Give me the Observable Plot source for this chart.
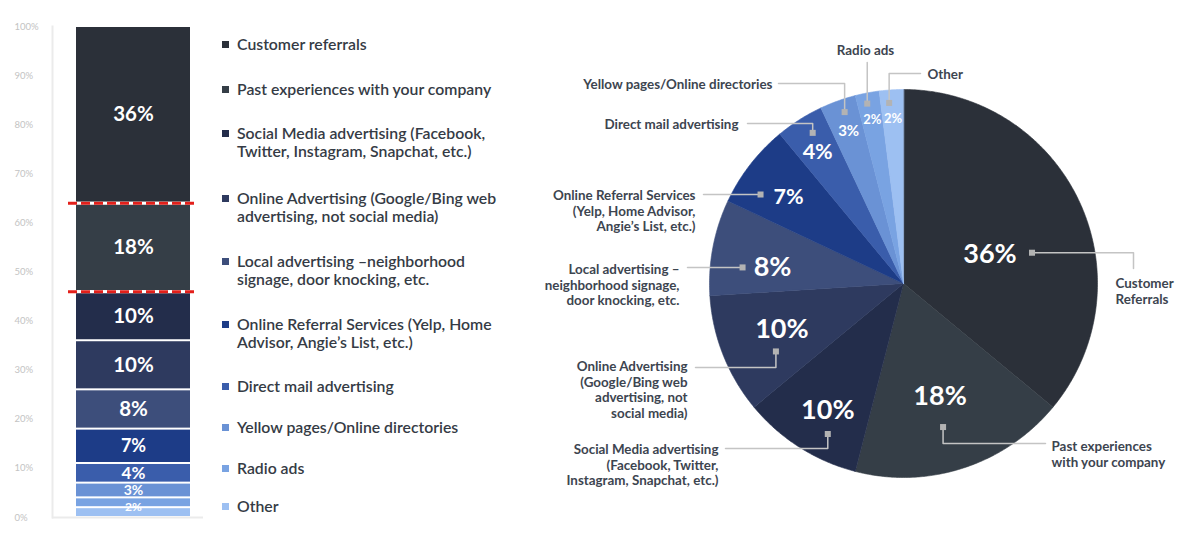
<!DOCTYPE html>
<html><head><meta charset="utf-8">
<script src="https://cdn.jsdelivr.net/npm/d3@7"></script>
<script src="https://cdn.jsdelivr.net/npm/@observablehq/plot@0.6"></script>
<style>
html,body{margin:0;padding:0;background:#fff;}
#root{position:relative;width:1200px;height:533px;overflow:hidden;font-family:Lato,"Open Sans",sans-serif;}
#bar{position:absolute;left:0;top:0;}
#legend{position:absolute;left:0;top:0;}
#pie{position:absolute;left:520px;top:0;}
.item{position:absolute;left:222px;}
.sw{position:absolute;left:0;top:5.5px;width:7px;height:7px;}
.lt{position:absolute;left:15px;top:0;white-space:pre;font:600 15.8px/18px Lato,"Open Sans",sans-serif;color:#353b45;}
</style></head>
<body><div id="root"><div id="bar"></div><div id="legend"></div><div id="pie"></div></div>
<script>
// ---------------- DATA ----------------
const categories = [
  "Customer referrals", "Past experiences with your company", "Social Media advertising",
  "Online Advertising", "Local advertising", "Online Referral Services",
  "Direct mail advertising", "Yellow pages/Online directories", "Radio ads", "Other"
];
const shares = [36, 18, 10, 10, 8, 7, 4, 3, 2, 2];
const colors = ["#2b3039", "#353e47", "#232d4b", "#2e3a5f", "#3d4e7b", "#1d3c87",
                "#3a5dab", "#6a92d5", "#79a3e2", "#9dc0f2"];
const legendLabels = [
  "Customer referrals",
  "Past experiences with your company",
  "Social Media advertising (Facebook,\nTwitter, Instagram, Snapchat, etc.)",
  "Online Advertising (Google/Bing web\nadvertising, not social media)",
  "Local advertising –neighborhood\nsignage, door knocking, etc.",
  "Online Referral Services (Yelp, Home\nAdvisor, Angie’s List, etc.)",
  "Direct mail advertising",
  "Yellow pages/Online directories",
  "Radio ads",
  "Other"
];
const pieLabels = [
  "Customer\nReferrals",
  "Past experiences\nwith your company",
  "Social Media advertising\n(Facebook, Twitter,\nInstagram, Snapchat, etc.)",
  "Online Advertising\n(Google/Bing web\nadvertising, not\nsocial media)",
  "Local advertising –\nneighborhood signage,\ndoor knocking, etc.",
  "Online Referral Services\n(Yelp, Home Advisor,\nAngie’s List, etc.)",
  "Direct mail advertising",
  "Yellow pages/Online directories",
  "Radio ads",
  "Other"
];
const yTicks = [0, 10, 20, 30, 40, 50, 60, 70, 80, 90, 100];
const highlighted = "Past experiences with your company";

// ---------------- LAYOUT ----------------
const legendRowY = [44, 89, 133, 198, 261, 324, 386, 427, 468, 506];
const R = 194, PIE_CX = 383, PIE_CY = 283;
const textR = [0.47, 0.61, 0.76, 0.67, 0.68, 0.74, 0.81, 0.835, 0.86, 0.85];
const textTurn = [6.8, 0, -1.5, 0.9, -3.8, -1, -0.7, 0, 0, 0];
const markerShift = [[42,-2],[3,31],[0,24],[-6,22],[-30,0],[-28,-3],[-5,-19],[-4,-19],[-5,-16],[-4,-16]];
const leaderBends = [
  [["h",230],["v",-15]], [["v",160],["h",142]], [["v",165],["h",-178]], [["v",84],["h",-208]],
  [["h",-216]], [["h",-200]], [["v",-160],["h",-156]], [["v",-200],["h",-125]],
  [["v",-221]], [["v",-210],["h",17]]
];
const labelPos = [[212,-1,"start"],[148,162,"start"],[-185,165,"end"],[-216,82,"end"],
  [-224,-15,"end"],[-208,-89,"end"],[-165,-160,"end"],[-131,-200,"end"],[-38,-234,"middle"],[24,-210,"start"]];

const colorScale = {domain: categories, range: colors};

// ---------------- STACKED BAR ----------------
const barData = categories.map((c, i) => ({key: c, value: shares[i], group: "all"})).reverse();
const hiIndex = categories.indexOf(highlighted);
const hiBottom = d3.sum(shares.slice(hiIndex + 1));
const redLines = [hiBottom, hiBottom + shares[hiIndex]];
const barFont = v => v >= 8 ? 20.5 : v >= 7 ? 18 : v >= 4 ? 17 : v >= 3 ? 14 : 12;

const bar = Plot.plot({
  width: 210, height: 533,
  marginLeft: 52, marginRight: 7, marginTop: 26, marginBottom: 16,
  style: {fontFamily: "Lato, 'Open Sans', sans-serif", background: "transparent"},
  x: {domain: ["all"], range: [76, 190], padding: 0, axis: null},
  y: {domain: [0, 100], axis: null},
  color: colorScale,
  marks: [
    Plot.frame({anchor: "left", stroke: "#ebebeb", strokeWidth: 2}),
    Plot.axisY({ticks: yTicks, tickSize: 0, tickPadding: 0, textAnchor: "start", dx: -38, label: null,
      tickFormat: d => d + "%", fill: "#c3c3c3", fontSize: 9.5}),
    Plot.ruleY([0], {stroke: "#ebebeb", strokeWidth: 2}),
    Plot.barY(barData, {x: "group", y: "value", fill: "key", insetTop: 1, insetBottom: 1}),
    Plot.text(barData, Plot.stackY({x: "group", y: "value",
      text: d => d.value >= 3 ? d.value + "%" : null,
      fill: "white", fontWeight: 700, fontSize: d => barFont(d.value)})),
    Plot.text(barData, Plot.stackY({x: "group", y: "value",
      text: d => d.value < 3 && d.key !== "Other" ? d.value + "%" : null,
      fill: "white", fontWeight: 700, fontSize: 12, dy: 4})),
    Plot.ruleY(redLines, {stroke: "white", strokeWidth: 3, insetLeft: 16, insetRight: 6}),
    Plot.ruleY(redLines, {stroke: "#e3201b", strokeWidth: 3, strokeDasharray: "9,4", insetLeft: 16, insetRight: 6})
  ]
});
document.getElementById("bar").append(bar);

// ---------------- LEGEND ----------------
const legend = document.getElementById("legend");
categories.forEach((c, i) => {
  const row = document.createElement("div");
  row.className = "item";
  row.style.top = (legendRowY[i] - 9) + "px";
  const sw = document.createElement("span");
  sw.className = "sw"; sw.style.background = colors[i];
  const lt = document.createElement("span");
  lt.className = "lt"; lt.textContent = legendLabels[i];
  row.append(sw, lt);
  legend.append(row);
});

// ---------------- PIE ----------------
const total = d3.sum(shares);
let acc = 0;
const slices = categories.map((c, i) => {
  const a0 = acc / total * 2 * Math.PI; acc += shares[i];
  const a1 = acc / total * 2 * Math.PI;
  return {key: c, value: shares[i], a0, a1, mid: (a0 + a1) / 2, i};
});
const piePts = slices.flatMap(s => {
  const n = Math.max(2, Math.ceil((s.a1 - s.a0) / (Math.PI / 360)));
  const pts = [{key: s.key, x: 0, y: 0}];
  for (let k = 0; k <= n; k++) {
    const a = s.a0 + (s.a1 - s.a0) * k / n;
    pts.push({key: s.key, x: Math.sin(a), y: Math.cos(a)});
  }
  return pts;
});
// pixel offsets (dy down) -> scale units
const U = (dx, dy) => ({x: dx / R, y: -dy / R});
const pctTexts = [], markers = [], leaderPts = [], labels = [];
slices.forEach((s, i) => {
  const th = s.mid + textTurn[i] * Math.PI / 180;
  const tx = R * textR[i] * Math.sin(th), ty = -R * textR[i] * Math.cos(th);
  pctTexts.push({key: s.key, value: s.value, ...U(tx, ty)});
  let mx = tx + markerShift[i][0], my = ty + markerShift[i][1];
  markers.push({key: s.key, ...U(mx, my)});
  leaderPts.push({key: s.key, ...U(mx, my)});
  for (const [dir, v] of leaderBends[i]) {
    if (dir === "h") mx = v; else my = v;
    leaderPts.push({key: s.key, ...U(mx, my)});
  }
  labels.push({key: s.key, text: pieLabels[i], anchor: labelPos[i][2], ...U(labelPos[i][0], labelPos[i][1])});
});
const pieFont = v => v >= 8 ? 27 : v >= 4 ? 21.5 : v >= 3 ? 15 : 13;
const labelMark = anchor => Plot.text(labels, {filter: d => d.anchor === anchor, x: "x", y: "y", text: "text",
  textAnchor: anchor, lineAnchor: "top", dy: -5, lineHeight: 1.15, fontSize: 13.4, fontWeight: 700, fill: "#3d4550"});

const pie = Plot.plot({
  width: 680, height: 533, margin: 0,
  style: {fontFamily: "Lato, 'Open Sans', sans-serif", background: "transparent", overflow: "visible"},
  x: {domain: [-1, 1], range: [PIE_CX - R, PIE_CX + R], axis: null},
  y: {domain: [-1, 1], range: [PIE_CY + R, PIE_CY - R], axis: null},
  color: colorScale,
  marks: [
    Plot.line(piePts, {x: "x", y: "y", z: "key", fill: "key", stroke: "key", strokeWidth: 0.6, curve: "linear-closed"}),
    Plot.text(pctTexts, {x: "x", y: "y", text: d => d.value + "%", fill: "white", fontWeight: 700,
      fontSize: d => pieFont(d.value)}),
    Plot.line(leaderPts, {x: "x", y: "y", z: "key", stroke: "#c4c4c4", strokeWidth: 1.5}),
    Plot.dot(markers, {x: "x", y: "y", symbol: "square", r: 3.4, fill: "#b3b3b3", stroke: null}),
    labelMark("start"), labelMark("end"), labelMark("middle")
  ]
});
document.getElementById("pie").append(pie);
</script>
</body></html>
